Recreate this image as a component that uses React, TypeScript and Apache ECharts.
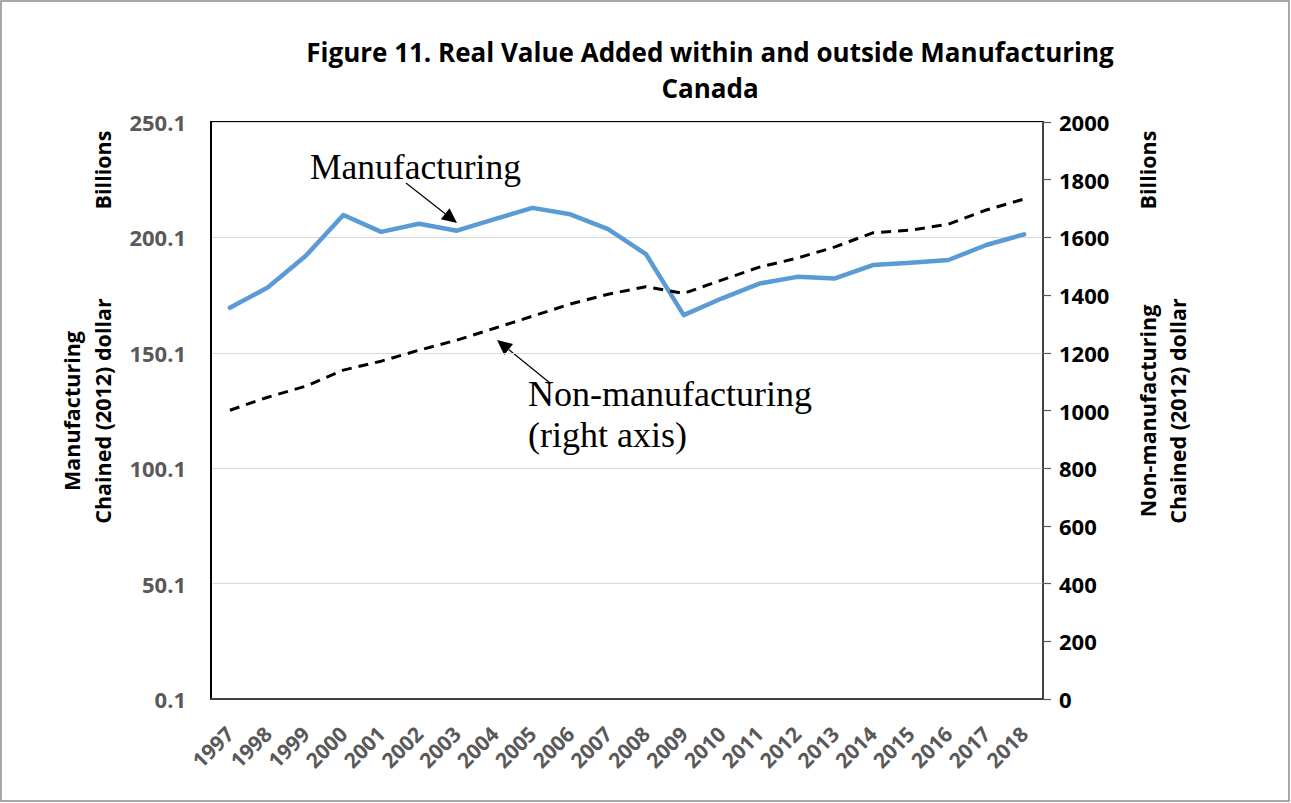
import React, { useEffect, useRef } from "react";
import * as echarts from "echarts";

const years = ["1997","1998","1999","2000","2001","2002","2003","2004","2005","2006","2007","2008","2009","2010","2011","2012","2013","2014","2015","2016","2017","2018"];
const manufacturing = [169.6,178.4,192.0,209.8,202.5,206.0,203.0,208.0,212.9,210.1,203.7,192.9,166.4,173.6,180.1,183.0,182.3,188.1,189.1,190.3,196.8,201.4];
const nonManufacturing = [1001,1046,1084,1140,1171,1209,1244,1285,1327,1369,1403,1429,1406,1452,1497,1528,1567,1616,1625,1646,1695,1733];
const leftTicks = { min: 0.1, max: 250.1, interval: 50 };
const rightTicks = { min: 0, max: 2000, interval: 200 };

const SANS = "'Open Sans', Lato, sans-serif";
const SERIF = "'Liberation Serif', 'DejaVu Serif', serif";

function arrow(x1: number, y1: number, x2: number, y2: number) {
  const dx = x2 - x1, dy = y2 - y1;
  const len = Math.sqrt(dx * dx + dy * dy);
  const ux = dx / len, uy = dy / len;
  const hl = 15, hw = 7;
  const bx = x2 - ux * hl, by = y2 - uy * hl;
  return [
    { type: "line", shape: { x1, y1, x2: bx, y2: by }, style: { stroke: "#000", lineWidth: 1.2 } },
    { type: "polygon", shape: { points: [[x2, y2], [bx - uy * hw, by + ux * hw], [bx + uy * hw, by - ux * hw]] }, style: { fill: "#000" } },
  ];
}

export default function App() {
  const ref = useRef<HTMLDivElement>(null);
  useEffect(() => {
    const chart = echarts.init(ref.current!, null, { renderer: "svg" });
    chart.setOption({
      animation: false,
      backgroundColor: "#fff",
      grid: { left: 211, right: 248, top: 122, bottom: 104, show: true, borderColor: "#000", borderWidth: 2 },
      xAxis: {
        type: "category",
        data: years,
        boundaryGap: true,
        axisLine: { lineStyle: { color: "#404040", width: 2 } },
        axisTick: { show: false },
        axisLabel: { rotate: 45, margin: 31, color: "#595959", fontWeight: "bold", fontSize: 21, fontFamily: SANS, interval: 0 },
      },
      yAxis: [
        {
          type: "value",
          min: leftTicks.min, max: leftTicks.max, interval: leftTicks.interval,
          axisLine: { show: true, lineStyle: { color: "#000", width: 2 } },
          axisTick: { show: false },
          splitLine: { lineStyle: { color: "#d9d9d9", width: 1.2 } },
          axisLabel: { formatter: (v: number) => v.toFixed(1), margin: 25, color: "#595959", fontWeight: "bold", fontSize: 22, fontFamily: SANS },
        },
        {
          type: "value",
          position: "right",
          min: rightTicks.min, max: rightTicks.max, interval: rightTicks.interval,
          axisLine: { show: true, lineStyle: { color: "#595959", width: 1.5 } },
          axisTick: { show: true, inside: false, length: 8, lineStyle: { color: "#595959", width: 1.2 } },
          splitLine: { show: false },
          axisLabel: { formatter: (v: number) => String(v), margin: 16, color: "#000", fontWeight: "bold", fontSize: 22, fontFamily: SANS },
        },
      ],
      series: [
        {
          name: "Manufacturing",
          type: "line",
          data: manufacturing,
          yAxisIndex: 0,
          symbol: "none",
          lineStyle: { color: "#5B9BD5", width: 4.5, join: "round", cap: "round" },
        },
        {
          name: "Non-manufacturing",
          type: "line",
          data: nonManufacturing,
          yAxisIndex: 1,
          symbol: "none",
          lineStyle: { color: "#000", width: 3, type: [10, 7] },
        },
      ],
      graphic: [
        { type: "rect", shape: { x: 1, y: 1, width: 1288, height: 800 }, style: { fill: "none", stroke: "#8c8c8c", lineWidth: 1.5 }, silent: true },
        { type: "text", x: 710, y: 52, style: { text: "Figure 11. Real Value Added within and outside Manufacturing", font: `bold 26px ${SANS}`, fill: "#000", textAlign: "center", textVerticalAlign: "middle" } },
        { type: "text", x: 710, y: 88, style: { text: "Canada", font: `bold 26px ${SANS}`, fill: "#000", textAlign: "center", textVerticalAlign: "middle" } },
        { type: "text", x: 102, y: 170, rotation: Math.PI / 2, style: { text: "Billions", font: `bold 21.5px ${SANS}`, fill: "#000", textAlign: "center", textVerticalAlign: "middle" } },
        { type: "text", x: 71, y: 411, rotation: Math.PI / 2, style: { text: "Manufacturing", font: `bold 21.5px ${SANS}`, fill: "#000", textAlign: "center", textVerticalAlign: "middle" } },
        { type: "text", x: 102, y: 411, rotation: Math.PI / 2, style: { text: "Chained (2012) dollar", font: `bold 21.5px ${SANS}`, fill: "#000", textAlign: "center", textVerticalAlign: "middle" } },
        { type: "text", x: 1147, y: 170, rotation: Math.PI / 2, style: { text: "Billions", font: `bold 21.5px ${SANS}`, fill: "#000", textAlign: "center", textVerticalAlign: "middle" } },
        { type: "text", x: 1147, y: 411, rotation: Math.PI / 2, style: { text: "Non-manufacturing", font: `bold 21.5px ${SANS}`, fill: "#000", textAlign: "center", textVerticalAlign: "middle" } },
        { type: "text", x: 1177, y: 411, rotation: Math.PI / 2, style: { text: "Chained (2012) dollar", font: `bold 21.5px ${SANS}`, fill: "#000", textAlign: "center", textVerticalAlign: "middle" } },
        { type: "text", x: 310, y: 185, style: { text: "Manufacturing", font: `35.5px ${SERIF}`, fill: "#000", textAlign: "left", textVerticalAlign: "bottom" } },
        { type: "text", x: 528, y: 412, style: { text: "Non-manufacturing", font: `36px ${SERIF}`, fill: "#000", textAlign: "left", textVerticalAlign: "bottom" } },
        { type: "text", x: 528, y: 453, style: { text: "(right axis)", font: `36px ${SERIF}`, fill: "#000", textAlign: "left", textVerticalAlign: "bottom" } },
        ...arrow(406, 183, 457, 223),
        ...arrow(550, 383, 497, 340),
      ],
    });
    return () => chart.dispose();
  }, []);
  return <div ref={ref} style={{ position: "fixed", left: 0, top: 0, width: 1291, height: 803 }} />;
}
